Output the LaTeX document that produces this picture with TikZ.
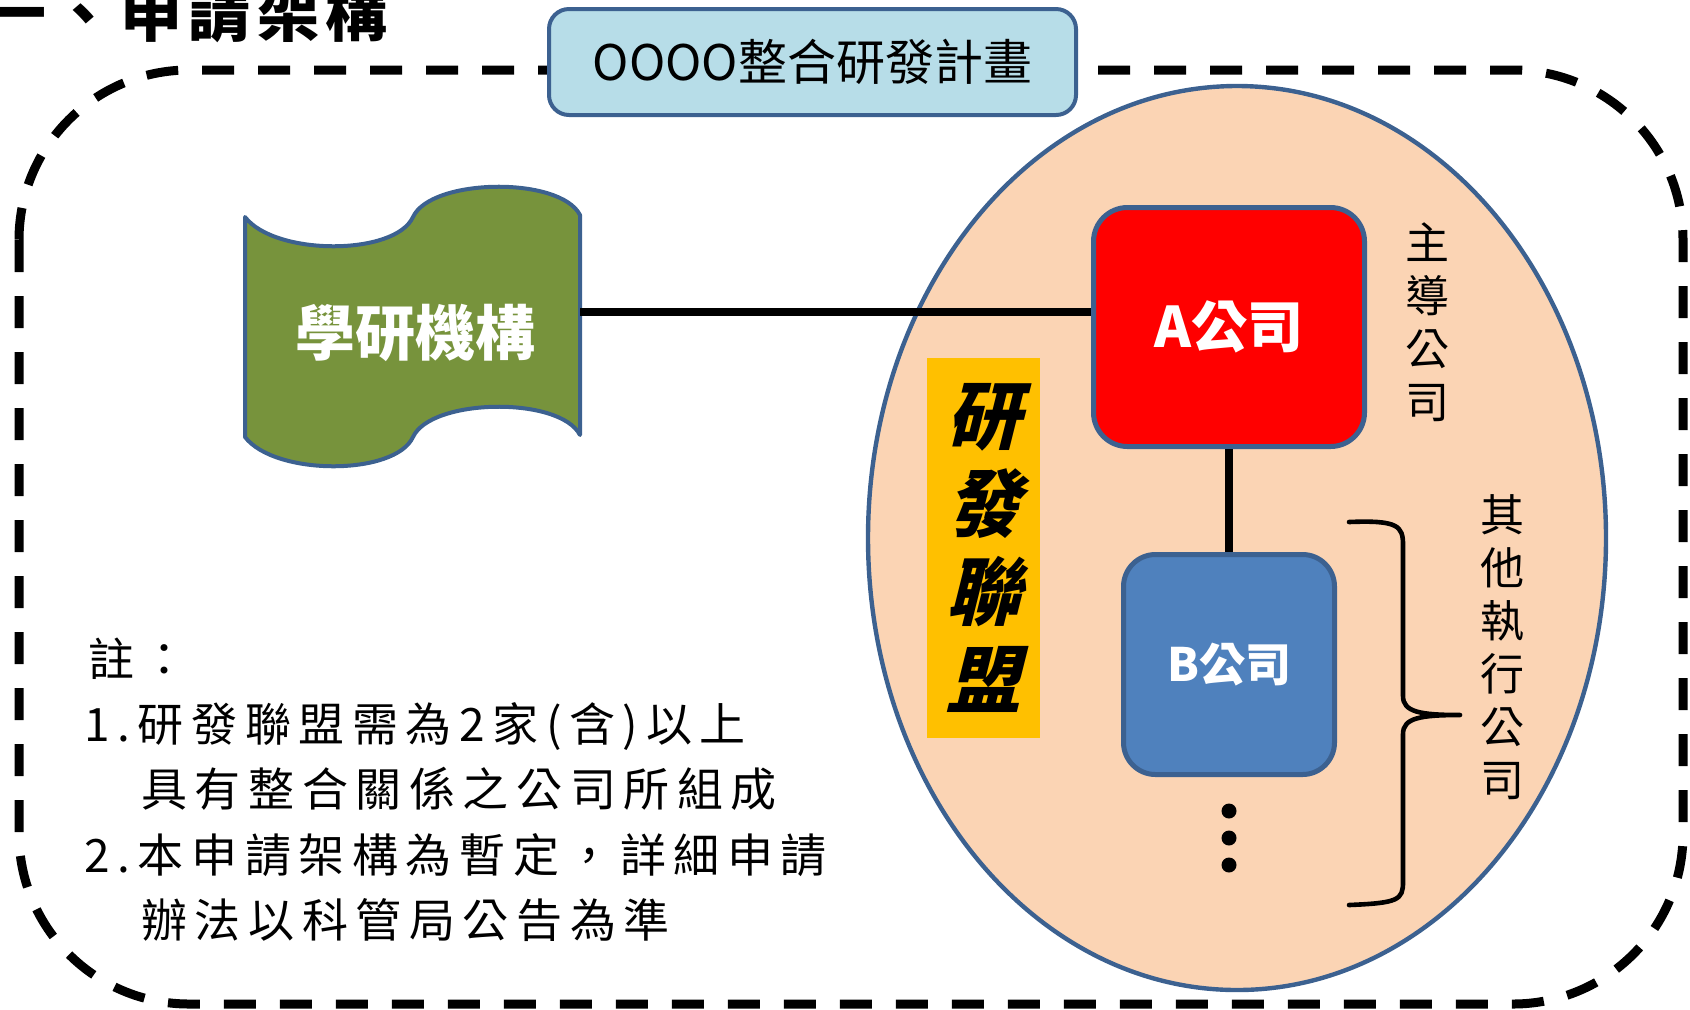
\documentclass[tikz,border=0pt]{standalone}
\usepackage{fontspec}
\usetikzlibrary{shapes.geometric}
\setmainfont{Noto Sans CJK TC}
\newfontfamily\headfont{Noto Sans CJK TC}[LetterSpace=10]
\newfontfamily\notefont{Noto Sans CJK TC}[LetterSpace=16.5]
\newfontfamily\slantcjk{Noto Sans CJK TC}[FakeSlant=0.25]
\definecolor{edgeblue}{HTML}{3C6190}
\definecolor{peach}{HTML}{FBD4B4}
\definecolor{titlefill}{HTML}{B7DDE8}
\definecolor{flaggreen}{HTML}{77933C}
\definecolor{compblue}{HTML}{4F81BD}
\definecolor{compred}{HTML}{FF0000}
\definecolor{ribbon}{HTML}{FFC000}
\tikzset{
  dashframe/.style={draw=black, line width=4.5pt, dash pattern=on 16pt off 12pt, rounded corners=85pt},
  titlebox/.style={draw=edgeblue, fill=titlefill, line width=2pt, rounded corners=10pt,
    minimum width=263.5pt, minimum height=53pt, inner sep=0pt,
    font=\fontsize{24.5pt}{28pt}\selectfont},
  consort/.style={ellipse, draw=edgeblue, fill=peach, line width=2.2pt, inner sep=0pt,
    minimum width=369pt, minimum height=452pt},
  flagshape/.style={draw=edgeblue, fill=flaggreen, line width=2pt, line join=round},
  flaglabel/.style={text=white, inner sep=0pt, font=\bfseries\fontsize{30pt}{32pt}\selectfont},
  compA/.style={draw=edgeblue, fill=compred, line width=2.5pt, rounded corners=17pt,
    minimum width=135.5pt, minimum height=119.5pt, inner sep=0pt, text=white,
    font=\bfseries\fontsize{28pt}{30pt}\selectfont},
  compB/.style={draw=edgeblue, fill=compblue, line width=2.5pt, rounded corners=16pt,
    minimum width=105.5pt, minimum height=110pt, inner sep=0pt, text=white,
    font=\bfseries\fontsize{23pt}{25pt}\selectfont},
  conn/.style={draw=black, line width=3.6pt},
  ribbonbox/.style={fill=ribbon, minimum width=56.5pt, minimum height=190pt, inner sep=0pt,
    align=center, font=\slantcjk\bfseries\fontsize{37pt}{44pt}\selectfont},
  vlabel/.style={align=center, inner sep=0pt, font=\fontsize{22pt}{26.5pt}\selectfont},
  bracepath/.style={draw=black, line width=2.3pt, line cap=round, line join=round},
  vdot/.style={circle, fill=black, minimum size=7.5pt, inner sep=0pt},
  noteline/.style={anchor=base west, inner sep=0pt, font=\notefont\fontsize{23pt}{26pt}\selectfont},
  headline/.style={anchor=base west, inner sep=0pt, font=\headfont\bfseries\fontsize{31pt}{33pt}\selectfont}
}
\begin{document}
\begin{tikzpicture}[x=0.5pt,y=-0.5pt]
\useasboundingbox (0,0) rectangle (1690,1009);
% header
\node[headline] (head) at (-16,36) {一、申請架構};
% dashed frame
\draw[dashframe] (19,70) rectangle (1683,1004);
% title box
\node[titlebox] (title) at (812.5,62) {OOOO整合研發計畫};
% consortium ellipse
\node[consort] (cons) at (1237,538) {};
% ribbon
\node[ribbonbox] (rd) at (983.5,548) {研\\發\\聯\\盟};
% flag shape
\draw[flagshape] (245,217) .. controls (275,256) and (395,256) .. (413,217)
  .. controls (431,178) and (560,176) .. (580,215) -- (580,435)
  .. controls (560,396) and (431,398) .. (413,437)
  .. controls (395,476) and (275,476) .. (245,437) -- cycle;
\node[flaglabel] (flag) at (415,333) {學研機構};
\coordinate (flagR) at (580,312);
% companies
\node[compA] (A) at (1229,327) {A公司};
\node[compB] (B) at (1229,664.5) {\raisebox{-3pt}{B公司}};
% connectors
\draw[conn] (flagR) -- (flagR -| A.west);
\draw[conn] (A.south) -- (B.north);
% dots
\node[vdot] (d1) at (1229,811) {};
\node[vdot] (d2) at (1229,838) {};
\node[vdot] (d3) at (1229,865) {};
% labels
\node[vlabel] (lead) at (1427,322) {主\\導\\公\\司};
\node[vlabel] (others) at (1502,647) {其\\他\\執\\行\\公\\司};
% brace
\draw[bracepath] (1349,522) .. controls (1398,520) and (1403,526) .. (1403,545)
  -- (1403,696) .. controls (1403,712) and (1420,715) .. (1460,715)
  .. controls (1420,715) and (1403,718) .. (1403,734)
  -- (1403,882) .. controls (1403,900) and (1398,903) .. (1349,905);
% notes
\node[noteline] (n0) at (88,676) {註：};
\node[noteline] (n1) at (84,741) {1.研發聯盟需為2家(含)以上};
\node[noteline] (n2) at (141,806) {具有整合關係之公司所組成};
\node[noteline] (n3) at (84,872) {2.本申請架構為暫定，詳細申請};
\node[noteline] (n4) at (141,937) {辦法以科管局公告為準};
\end{tikzpicture}
\end{document}
